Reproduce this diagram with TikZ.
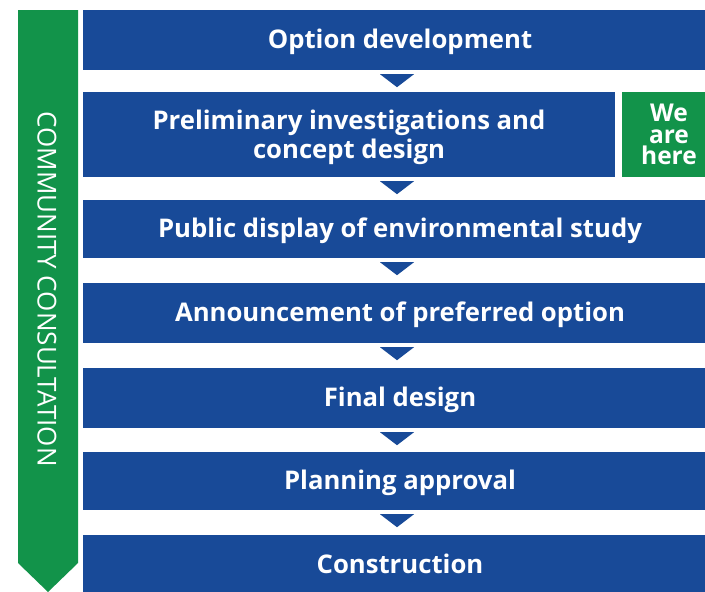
\documentclass[tikz,border=0pt]{standalone}
\usepackage{fontspec}
\setmainfont{Open Sans}
\usetikzlibrary{calc}
\definecolor{bblue}{RGB}{24,74,152}
\definecolor{ggreen}{RGB}{18,147,74}
\begin{document}
\begin{tikzpicture}[x=1pt,y=-1pt,
  stagefont/.style={text=white, font=\bfseries\fontsize{25.7}{28.5}\selectfont, align=center, inner sep=0pt},
  stage/.style={stagefont, fill=bblue, draw=none, minimum width=634pt, text height=21pt, text depth=5pt},
  here/.style={fill=ggreen, draw=none, text=white, font=\bfseries\fontsize{24.5}{21.5}\selectfont, align=center, inner sep=0pt},
  tri/.style={fill=bblue, draw=none},
  side/.style={text=white, font=\fontsize{26}{28}\selectfont, inner sep=0pt}]
\useasboundingbox (0,0) rectangle (705,592);
\clip (0,0) rectangle (705,592);
\fill[white] (0,0) rectangle (705,592);
% green side arrow
\fill[ggreen] (18,10) -- (78,10) -- (78,563) -- (48,592) -- (18,563) -- cycle;
\node[side, rotate=-90] (cc) at (47,289) {COMMUNITY CONSULTATION};
% stages
\node[stage, minimum height=60pt] (b1) at (400,40) {Option development};
\node[fill=bblue, draw=none, inner sep=0pt, minimum width=532pt, minimum height=85pt] (b2) at (349,134.5) {};
\node[stagefont] (t2) at ($(b2.center)+(0,3)$) {Preliminary investigations and\\concept design};
\node[here, minimum width=94pt, minimum height=85pt] (wh) at (669,134.5) {We\\are\\here};
\node[stage, minimum height=58pt] (b3) at (400,229) {Public display of environmental study};
\node[stage, minimum height=60pt] (b4) at (400,313) {Announcement of preferred option};
\node[stage, minimum height=60pt] (b5) at (400,398) {Final design};
\node[stage, minimum height=58pt] (b6) at (400,481) {Planning approval};
\node[stage, minimum height=60pt] (b7) at (400,565) {Construction};
% arrow heads between stages
\coordinate (ax) at (397,0);
\foreach \n in {b1,b2,b3,b4,b5,b6}{
  \fill[tri] ($(\n.south -| ax)+(-17,4)$) -- ++(34,0) -- ++(-17,13) -- cycle;
}
\end{tikzpicture}
\end{document}
